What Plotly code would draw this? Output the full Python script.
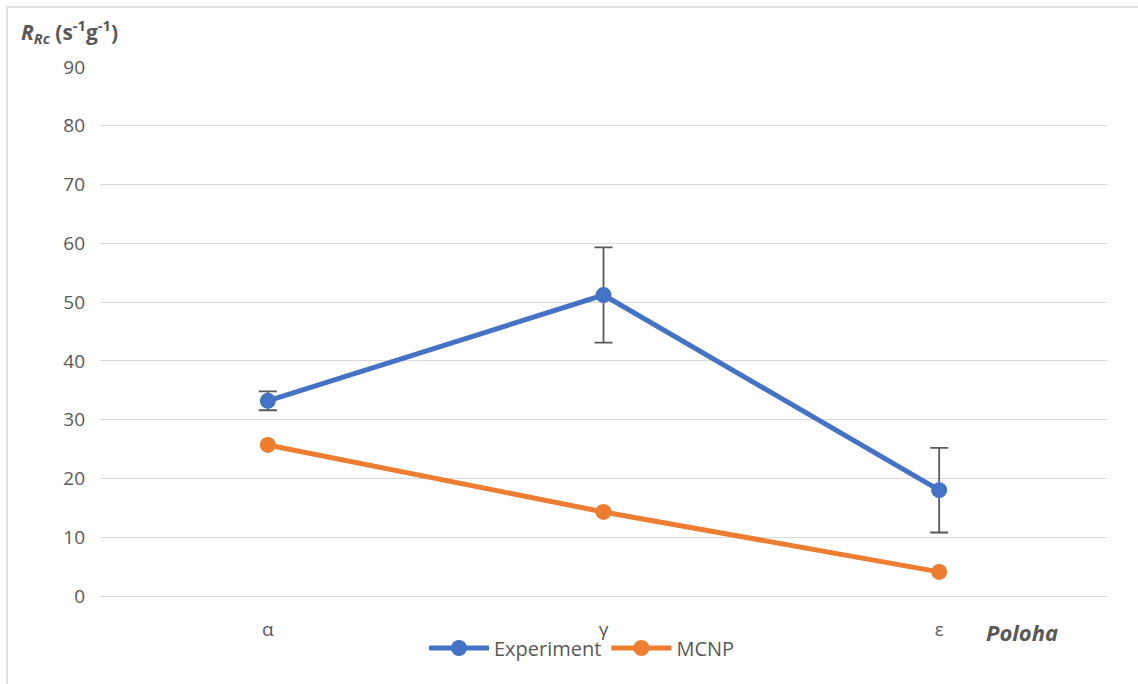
import plotly.graph_objects as go

# Measurement positions
positions = ["α", "γ", "ε"]

# Reaction rate per unit mass
experiment = [33.2, 51.2, 18.0]
experiment_err = [1.6, 8.1, 7.2]
mcnp = [25.7, 14.3, 4.1]

BLUE = "#4472C4"
ORANGE = "#ED7D31"
GRID = "#D9D9D9"
TEXT = "#595959"
FONT = "Open Sans, Liberation Sans, sans-serif"

W, H = 1138, 684
L, R, T, B = 100, 31, 67, 88
pw, ph = W - L - R, H - T - B

def px(x):
    return (x - L) / pw

def py(y):
    return (H - B - y) / ph

fig = go.Figure()
fig.add_trace(go.Scatter(
    x=positions, y=experiment, name="Experiment", mode="lines+markers",
    line=dict(color=BLUE, width=5),
    marker=dict(color=BLUE, size=16),
    error_y=dict(type="data", array=experiment_err, visible=True,
                 color="#595959", thickness=1.8, width=9),
))
fig.add_trace(go.Scatter(
    x=positions, y=mcnp, name="MCNP", mode="lines+markers",
    line=dict(color=ORANGE, width=5),
    marker=dict(color=ORANGE, size=16),
))

fig.update_layout(
    width=W, height=H,
    margin=dict(l=L, r=R, t=T, b=B),
    paper_bgcolor="white", plot_bgcolor="white",
    font=dict(family=FONT, size=18, color=TEXT),
    showlegend=True,
    legend=dict(orientation="h", x=px(582), xanchor="center",
                y=py(648), yanchor="middle",
                font=dict(size=20, color=TEXT), itemwidth=60,
                bgcolor="rgba(0,0,0,0)"),
    xaxis=dict(type="category", range=[-0.5, 2.5], showgrid=False,
               showline=False, zeroline=False, ticks="",
               ticklabelstandoff=20, tickfont=dict(size=19, color=TEXT)),
    yaxis=dict(range=[0, 90], dtick=10, showgrid=True, gridcolor=GRID,
               gridwidth=1, zeroline=True, zerolinecolor=GRID, zerolinewidth=1,
               showline=False, ticks="", ticklabelstandoff=14,
               tickfont=dict(size=19, color=TEXT)),
    shapes=[dict(type="rect", xref="paper", yref="paper",
                 x0=px(7), x1=px(1160), y0=py(720), y1=py(7),
                 line=dict(color=GRID, width=1.5), layer="below")],
    annotations=[
        dict(text="<b><i>R</i><sub><i>Rc</i></sub> (s<sup>-1</sup>g<sup>-1</sup>)</b>",
             xref="paper", yref="paper", x=px(19), y=py(31),
             xanchor="left", yanchor="middle", showarrow=False,
             font=dict(size=21, color=TEXT)),
        dict(text="<b><i>Poloha</i></b>",
             xref="paper", yref="paper", x=px(984), y=py(632),
             xanchor="left", yanchor="middle", showarrow=False,
             font=dict(size=22, color=TEXT)),
    ],
)

fig.write_html("out.html")
